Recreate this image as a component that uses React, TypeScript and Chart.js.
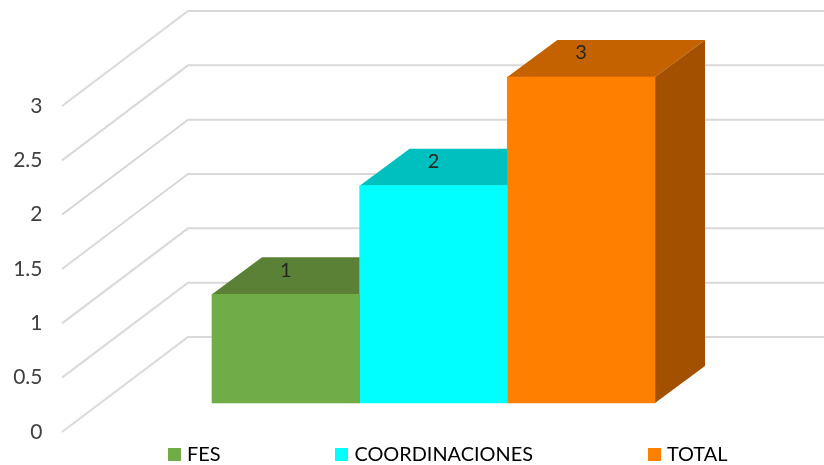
import React, { useEffect, useRef } from "react";
import { Chart, registerables } from "chart.js";

Chart.register(...registerables);

const categories = [""];
const seriesNames = ["FES", "COORDINACIONES", "TOTAL"];
const fesValues = [1];
const coordinacionesValues = [2];
const totalValues = [3];
const frontColors = ["#70AD47", "#00FFFF", "#FF8000"];
const topColors = ["#5A8136", "#00BFBF", "#C46200"];
const sideColors = ["#547F35", "#00BFBF", "#A35000"];
const FONT = "Lato, 'Open Sans', sans-serif";

const WALL = { dx: 126, dy: 95, right: 824 };
const FRONT = { dx: 37.5, dy: 29 };
const DEPTH = { dx: 50, dy: 37 };
const PLOT = { top: 106, bottom: 432 };
const LEGEND_PADDING = 119;

function swatch(color: string) {
  const c = document.createElement("canvas");
  c.width = 13;
  c.height = 13;
  const g = c.getContext("2d") as CanvasRenderingContext2D;
  g.fillStyle = color;
  g.fillRect(0, 0, 13, 13);
  return c;
}

const pseudo3d = {
  id: "pseudo3d",
  afterLayout(chart: any) {
    const y = chart.scales.y;
    y.top = PLOT.top;
    y.bottom = PLOT.bottom;
    y.height = PLOT.bottom - PLOT.top;
    y.configure();
    chart.chartArea.top = PLOT.top;
    chart.chartArea.bottom = PLOT.bottom;
    chart.chartArea.height = PLOT.bottom - PLOT.top;

    const l = chart.legend;
    l.left = 172 - LEGEND_PADDING;
    l.right = 1400;
    l.width = l.right - l.left;
    l.top = 444.5 - LEGEND_PADDING;
    l.bottom = 480;
    l.height = l.bottom - l.top;
  },
  beforeDatasetsDraw(chart: any) {
    const { ctx, scales } = chart;
    const y = scales.y;
    ctx.save();
    ctx.strokeStyle = "#D9D9D9";
    ctx.lineWidth = 2;
    y.ticks.forEach((t: any) => {
      const py = y.getPixelForValue(t.value);
      const x0 = 62;
      ctx.beginPath();
      ctx.moveTo(x0, py);
      ctx.lineTo(x0 + WALL.dx, py - WALL.dy);
      ctx.lineTo(WALL.right, py - WALL.dy);
      ctx.stroke();
    });
    ctx.restore();

    ctx.save();
    ctx.translate(FRONT.dx, -FRONT.dy);
    chart.data.datasets.forEach((_: any, i: number) => {
      const el = chart.getDatasetMeta(i).data[0];
      const l = el.x - el.width / 2;
      const r = el.x + el.width / 2;
      ctx.fillStyle = topColors[i];
      ctx.beginPath();
      ctx.moveTo(l, el.y);
      ctx.lineTo(l + DEPTH.dx, el.y - DEPTH.dy);
      ctx.lineTo(r + DEPTH.dx, el.y - DEPTH.dy);
      ctx.lineTo(r, el.y);
      ctx.closePath();
      ctx.fill();
      ctx.fillStyle = sideColors[i];
      ctx.beginPath();
      ctx.moveTo(r, el.y);
      ctx.lineTo(r + DEPTH.dx, el.y - DEPTH.dy);
      ctx.lineTo(r + DEPTH.dx, el.base - DEPTH.dy);
      ctx.lineTo(r, el.base);
      ctx.closePath();
      ctx.fill();
    });
  },
  afterDatasetsDraw(chart: any) {
    const { ctx } = chart;
    ctx.fillStyle = "#262626";
    ctx.font = `20px ${FONT}`;
    ctx.textAlign = "center";
    ctx.textBaseline = "middle";
    chart.data.datasets.forEach((ds: any, i: number) => {
      const el = chart.getDatasetMeta(i).data[0];
      ctx.fillText(String(ds.data[0]), el.x, el.y - 24);
    });
    ctx.restore();
  },
};

export default function App() {
  const ref = useRef<HTMLCanvasElement>(null);
  useEffect(() => {
    document.body.style.margin = "0";
    document.body.style.background = "#FFFFFF";
    const values = [fesValues, coordinacionesValues, totalValues];
    const chart = new Chart(ref.current as HTMLCanvasElement, {
      type: "bar",
      data: {
        labels: categories,
        datasets: seriesNames.map((name, i) => ({
          label: name,
          data: values[i],
          backgroundColor: frontColors[i],
          borderWidth: 0,
          categoryPercentage: 1,
          barPercentage: 1,
          clip: false as any,
        })),
      },
      options: {
        responsive: false,
        animation: false,
        devicePixelRatio: 1,
        layout: { padding: { top: 105, right: 206.5, left: 0, bottom: 0 } },
        plugins: {
          tooltip: { enabled: false },
          legend: {
            position: "bottom",
            align: "start",
            labels: {
              padding: LEGEND_PADDING,
              usePointStyle: true,
              boxWidth: 5,
              boxHeight: 13,
              color: "#404040",
              font: { family: FONT, size: 19.9 },
              generateLabels: () =>
                seriesNames.map((name, i) => ({
                  text: name,
                  fillStyle: frontColors[i],
                  strokeStyle: frontColors[i],
                  lineWidth: 0,
                  pointStyle: swatch(frontColors[i]),
                  datasetIndex: i,
                  hidden: false,
                })) as any,
            },
          },
        },
        scales: {
          x: { display: false, offset: true, grid: { display: false } },
          y: {
            min: 0,
            max: 3,
            grid: { display: false, drawTicks: false },
            border: { display: false },
            afterFit(scale: any) {
              scale.width = 174.5;
            },
            ticks: {
              stepSize: 0.5,
              autoSkip: false,
              padding: 132,
              color: "#404040",
              font: { family: FONT, size: 21 },
              callback: (v: any) => String(v),
            },
          },
        },
      },
      plugins: [pseudo3d as any],
    });
    return () => chart.destroy();
  }, []);
  return <canvas ref={ref} width={824} height={465} style={{ display: "block" }} />;
}
